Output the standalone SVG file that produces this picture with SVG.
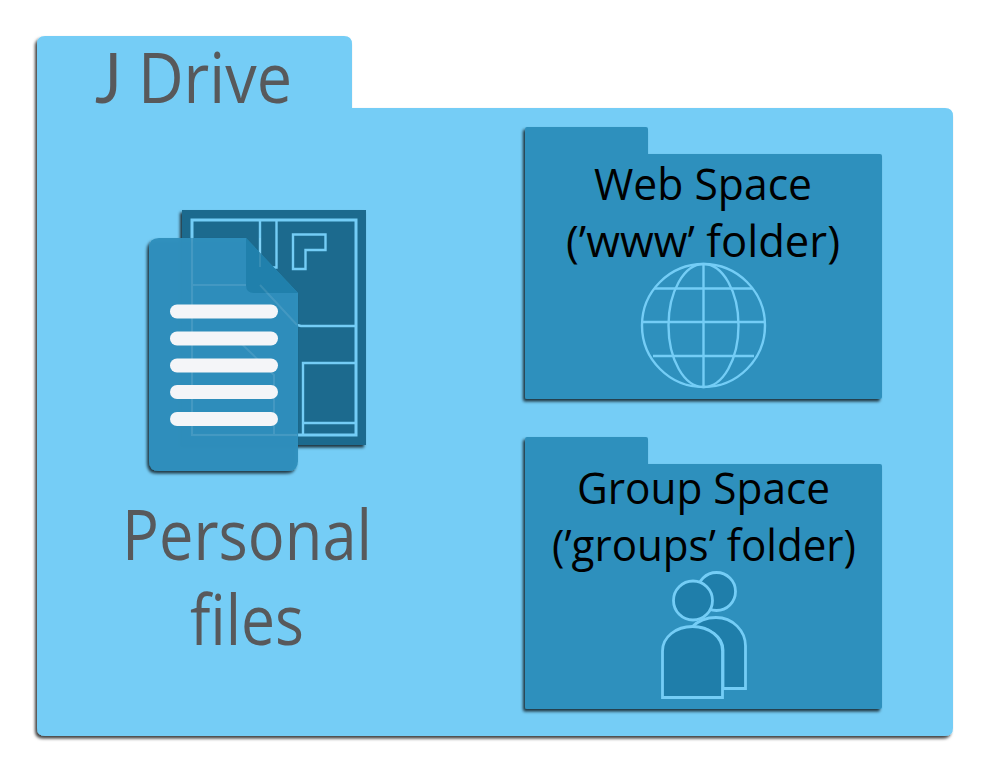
<svg xmlns="http://www.w3.org/2000/svg" width="994" height="775" viewBox="0 0 994 775">
<defs>
<filter id="sh" x="-10%" y="-10%" width="120%" height="120%"><feDropShadow dx="-2" dy="2.5" stdDeviation="1.8" flood-color="#000" flood-opacity=".75"/></filter>
</defs>
<style>
text{font-family:"Open Sans","Noto Sans","Liberation Sans",sans-serif}
.g{fill:#58595b;font-size:69px}
.k{fill:#000;font-size:44px}
.f{fill:#2e90bd;filter:url(#sh)}
.ic{fill:none;stroke:#74cdf6;stroke-width:2.400}
.pp{fill:#1f7eaa;stroke:#74cdf6;stroke-width:2.800}
.pl{fill:none;stroke:#74cdf6;stroke-width:2.400}
.bar{fill:#f4f5f8}
</style>
<rect width="994" height="775" fill="#fff"/>
<g id="j-drive">
<path d="M45 36H344Q352 36 352 44V108H945Q953 108 953 116V728Q953 736 945 736H45Q37 736 37 728V44Q37 36 45 36Z" fill="#74cdf6" filter="url(#sh)"/>
<text class="g" x="95" y="103" textLength="197" lengthAdjust="spacingAndGlyphs"><tspan style="font-family:Lato,'Open Sans',sans-serif">J</tspan> Drive</text>
</g>
<g id="personal-files">
<rect x="182" y="210" width="184" height="235" fill="#1d6a8e" filter="url(#sh)"/>
<g class="pl">
<rect x="192" y="220" width="164" height="215" stroke-width="3"/>
<path d="M260 220V267M276.500 220V267.500H260M293 234.500H325.500V250H305.500V269H293Z"/>
<path d="M297 325L301 326H356M303 435V363H356M303 423H356"/>
</g>
<path d="M159 238H246L298 293V461Q298 471 288 471H159Q149 471 149 461V248Q149 238 159 238Z" fill="#2e90bd" fill-opacity=".97" filter="url(#sh)"/>
<path d="M246 238L298 293H254Q246 293 246 285Z" fill="#2080ac"/>
<g fill="none" stroke="#fff" stroke-opacity=".1" stroke-width="2">
<path d="M192 285H246M192 238V435H297M260 238V267M192 338L237 339.500L274 375V435M260 285L297 325"/>
</g>
<rect class="bar" x="170" y="304.500" width="108" height="14" rx="7"/>
<rect class="bar" x="170" y="331.500" width="108" height="14" rx="7"/>
<rect class="bar" x="170" y="358.500" width="108" height="14" rx="7"/>
<rect class="bar" x="170" y="385" width="108" height="14" rx="7"/>
<rect class="bar" x="170" y="412" width="108" height="14" rx="7"/>
<text class="g" x="122" y="560" textLength="250" lengthAdjust="spacingAndGlyphs">Personal</text>
<text class="g" x="190" y="645" textLength="114" lengthAdjust="spacingAndGlyphs">files</text>
</g>
<g id="web-space">
<path class="f" d="M527 127H646Q648 127 648 129V154H880Q882 154 882 156V397Q882 399 880 399H527Q525 399 525 397V129Q525 127 527 127Z"/>
<text class="k" x="594" y="200" textLength="218" lengthAdjust="spacingAndGlyphs">Web Space</text>
<text class="k" x="566" y="257" textLength="274" lengthAdjust="spacingAndGlyphs">(’www’ folder)</text>
<g class="ic">
<circle cx="703.500" cy="325.500" r="61.500"/>
<ellipse cx="703.500" cy="325.500" rx="35" ry="61.500"/>
<path d="M703.500 264V387M641.500 322H765.500M655 288.500H752M653 356H754"/>
</g>
</g>
<g id="group-space">
<path class="f" d="M527 437H646Q648 437 648 439V464H880Q882 464 882 466V707Q882 709 880 709H527Q525 709 525 707V439Q525 437 527 437Z"/>
<text class="k" x="577" y="504" textLength="253" lengthAdjust="spacingAndGlyphs">Group Space</text>
<text class="k" x="552" y="561" textLength="304" lengthAdjust="spacingAndGlyphs">(’groups’ folder)</text>
<g class="pp">
<circle cx="716.500" cy="591.500" r="19"/>
<path d="M692 627C700 619 710 617.500 716 617.500C733 617.500 745.500 631 745.500 646V688.500H723V650C723 637 710 627 692 627Z"/>
<circle cx="693" cy="600.500" r="19.500"/>
<path d="M662.500 697.500V651C662.500 637 676 626.500 692.500 626.500C709 626.500 722.500 637 722.500 651V697.500Z"/>
</g>
</g>
<g id="connectors"/>
</svg>
